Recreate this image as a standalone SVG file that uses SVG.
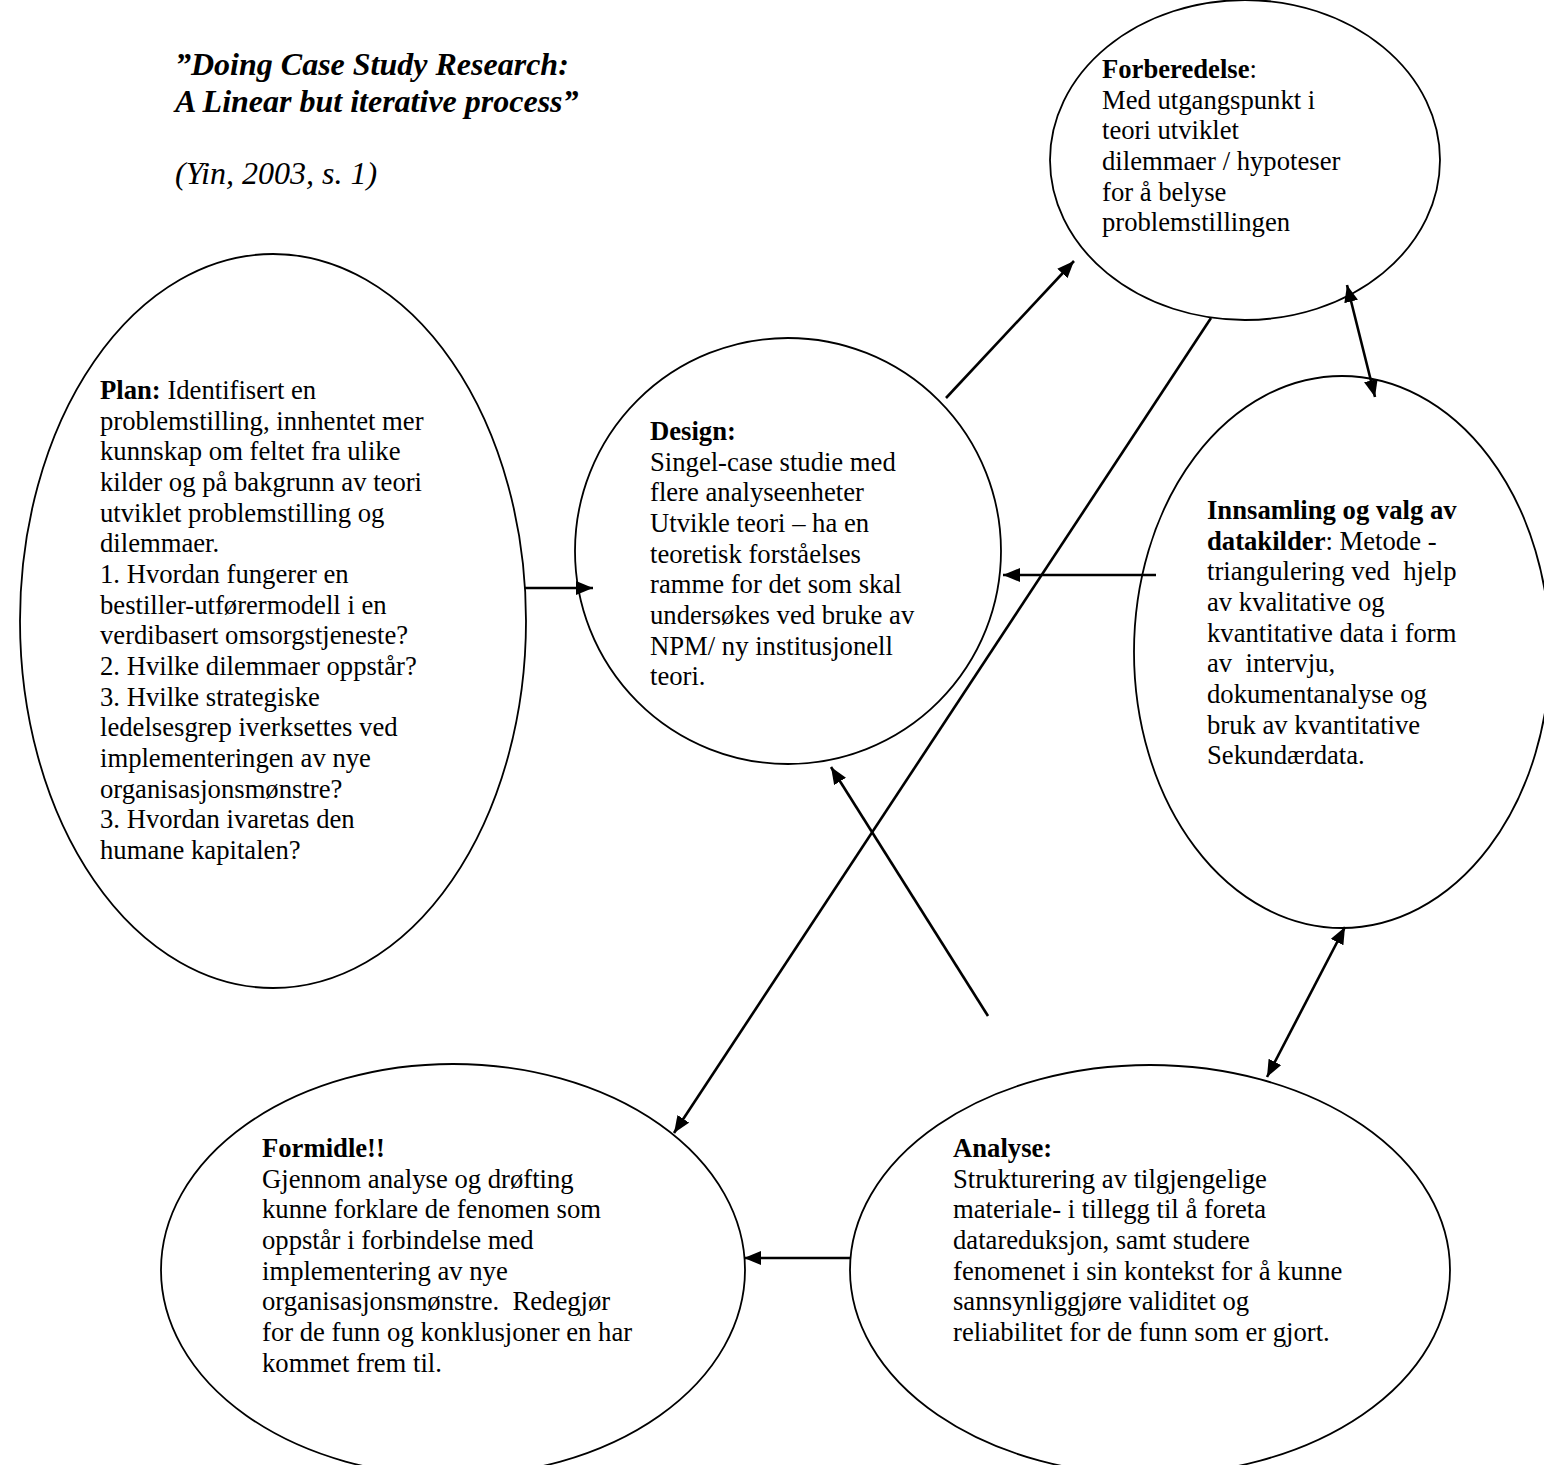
<svg xmlns="http://www.w3.org/2000/svg" width="1544" height="1465" viewBox="0 0 1544 1465">
  <defs>
    <marker id="head" viewBox="0 0 17 14" refX="17" refY="7" markerWidth="17" markerHeight="14" markerUnits="userSpaceOnUse" orient="auto-start-reverse">
      <path d="M0,0 L17,7 L0,14 z" fill="#000"/>
    </marker>
    <style>
      .bubble { fill: none; stroke: #000; stroke-width: 1.8; }
      .link { fill: none; stroke: #000; stroke-width: 2.6; marker-end: url(#head); }
      .both { marker-start: url(#head); }
      text { font-family: "Liberation Serif", "Times New Roman", serif; font-size: 26.67px; fill: #000; white-space: pre; }
      .title { font-size: 32px; font-weight: bold; font-style: italic; }
      .cite { font-size: 32px; font-style: italic; }
      .b { font-weight: bold; }
    </style>
  </defs>

  <rect width="1544" height="1465" fill="#fff"/>

  <!-- heading and citation -->
  <g id="heading">
    <text class="title" x="175" y="75">”Doing Case Study Research:</text>
    <text class="title" x="175" y="112">A Linear but iterative process”</text>
    <text class="cite" x="175" y="184">(Yin, 2003, s. 1)</text>
  </g>

  <!-- process stages -->
  <g id="forberedelse">
    <ellipse class="bubble" cx="1245" cy="160" rx="195" ry="160"/>
    <text x="1102" y="78"><tspan class="b">Forberedelse</tspan>:</text>
    <text x="1102" y="108.7">Med utgangspunkt i</text>
    <text x="1102" y="139.3">teori utviklet</text>
    <text x="1102" y="170">dilemmaer / hypoteser</text>
    <text x="1102" y="200.7">for å belyse</text>
    <text x="1102" y="231.3">problemstillingen</text>
  </g>

  <g id="plan">
    <ellipse class="bubble" cx="273" cy="621" rx="253" ry="367"/>
    <text x="100" y="399"><tspan class="b">Plan:</tspan> Identifisert en</text>
    <text x="100" y="429.7">problemstilling, innhentet mer</text>
    <text x="100" y="460.3">kunnskap om feltet fra ulike</text>
    <text x="100" y="491">kilder og på bakgrunn av teori</text>
    <text x="100" y="521.7">utviklet problemstilling og</text>
    <text x="100" y="552.3">dilemmaer.</text>
    <text x="100" y="583">1. Hvordan fungerer en</text>
    <text x="100" y="613.7">bestiller-utførermodell i en</text>
    <text x="100" y="644.3">verdibasert omsorgstjeneste?</text>
    <text x="100" y="675">2. Hvilke dilemmaer oppstår?</text>
    <text x="100" y="705.7">3. Hvilke strategiske</text>
    <text x="100" y="736.3">ledelsesgrep iverksettes ved</text>
    <text x="100" y="767">implementeringen av nye</text>
    <text x="100" y="797.7">organisasjonsmønstre?</text>
    <text x="100" y="828.3">3. Hvordan ivaretas den</text>
    <text x="100" y="859">humane kapitalen?</text>
  </g>

  <g id="design">
    <ellipse class="bubble" cx="788" cy="551" rx="213" ry="213"/>
    <text class="b" x="650" y="440">Design:</text>
    <text x="650" y="470.7">Singel-case studie med</text>
    <text x="650" y="501.3">flere analyseenheter</text>
    <text x="650" y="532">Utvikle teori – ha en</text>
    <text x="650" y="562.7">teoretisk forståelses</text>
    <text x="650" y="593.3">ramme for det som skal</text>
    <text x="650" y="624">undersøkes ved bruke av</text>
    <text x="650" y="654.7">NPM/ ny institusjonell</text>
    <text x="650" y="685.3">teori.</text>
  </g>

  <g id="innsamling">
    <ellipse class="bubble" cx="1342" cy="652" rx="208" ry="276"/>
    <text class="b" x="1207" y="519">Innsamling og valg av</text>
    <text x="1207" y="549.7"><tspan class="b">datakilder</tspan>: Metode -</text>
    <text x="1207" y="580.3">triangulering ved  hjelp</text>
    <text x="1207" y="611">av kvalitative og</text>
    <text x="1207" y="641.7">kvantitative data i form</text>
    <text x="1207" y="672.3">av  intervju,</text>
    <text x="1207" y="703">dokumentanalyse og</text>
    <text x="1207" y="733.7">bruk av kvantitative</text>
    <text x="1207" y="764.3">Sekundærdata.</text>
  </g>

  <g id="formidle">
    <ellipse class="bubble" cx="453" cy="1270" rx="292" ry="206"/>
    <text class="b" x="262" y="1157">Formidle!!</text>
    <text x="262" y="1187.7">Gjennom analyse og drøfting</text>
    <text x="262" y="1218.3">kunne forklare de fenomen som</text>
    <text x="262" y="1249">oppstår i forbindelse med</text>
    <text x="262" y="1279.7">implementering av nye</text>
    <text x="262" y="1310.3">organisasjonsmønstre.  Redegjør</text>
    <text x="262" y="1341">for de funn og konklusjoner en har</text>
    <text x="262" y="1371.7">kommet frem til.</text>
  </g>

  <g id="analyse">
    <ellipse class="bubble" cx="1150" cy="1270" rx="300" ry="205"/>
    <text class="b" x="953" y="1157">Analyse:</text>
    <text x="953" y="1187.7">Strukturering av tilgjengelige</text>
    <text x="953" y="1218.3">materiale- i tillegg til å foreta</text>
    <text x="953" y="1249">datareduksjon, samt studere</text>
    <text x="953" y="1279.7">fenomenet i sin kontekst for å kunne</text>
    <text x="953" y="1310.3">sannsynliggjøre validitet og</text>
    <text x="953" y="1341">reliabilitet for de funn som er gjort.</text>
  </g>

  <!-- connectors between the stages -->
  <g id="connectors">
    <line class="link" x1="946" y1="398" x2="1074" y2="261"/>
    <line class="link both" x1="1347" y1="285" x2="1375" y2="397"/>
    <line class="link" x1="525" y1="588" x2="593" y2="588"/>
    <line class="link" x1="1156" y1="575" x2="1003" y2="575"/>
    <line class="link" x1="1211" y1="318" x2="674" y2="1133"/>
    <line class="link" x1="988" y1="1016" x2="831" y2="767"/>
    <line class="link both" x1="1345" y1="927" x2="1267" y2="1077"/>
    <line class="link" x1="851" y1="1258" x2="744" y2="1258"/>
  </g>
</svg>
